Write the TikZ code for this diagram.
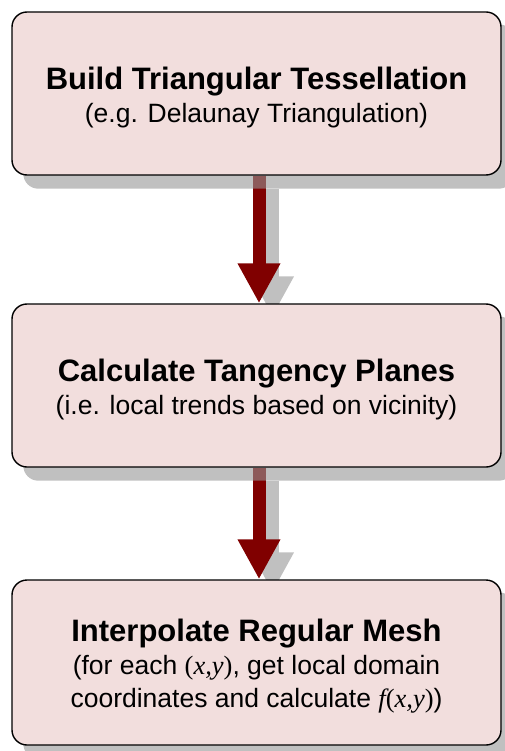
\documentclass[tikz,border=0pt]{standalone}
\usepackage{fontspec}
\setmainfont{Liberation Sans}
\newfontfamily\serifm{Liberation Serif}
\usetikzlibrary{arrows.meta,backgrounds}
\definecolor{boxfill}{RGB}{242,222,221}
\definecolor{arrred}{RGB}{128,0,0}
\definecolor{shadowc}{RGB}{150,150,150}
\definecolor{arrshadowc}{RGB}{192,192,192}
\newcommand{\serit}[1]{{\serifm\itshape #1}}
\newcommand{\serup}[1]{{\serifm #1}}
\newcommand{\ttlfont}{\fontsize{31}{33}\selectfont\bfseries}
\begin{document}
\begin{tikzpicture}[x=1pt,y=-1pt,
  stepbox/.style={draw=black,line width=1.4pt,fill=boxfill,rounded corners=15pt,
    minimum width=489pt,inner sep=0pt},
  boxtext/.style={inner sep=0pt,align=center,font=\fontsize{26.5}{33}\selectfont},
  flowarrow/.style={draw=arrred,line width=13pt,
    -{Triangle[width=40pt,length=40pt,fill=arrred]}},
  arrshadow/.style={draw=arrshadowc,line width=13pt,
    -{Triangle[width=40pt,length=40pt,fill=arrshadowc]}},
  boxshadow/.style={fill=shadowc,opacity=0.6,rounded corners=15pt}]
\useasboundingbox (0,0) rectangle (504,751);
\node[stepbox,minimum height=163pt] (b1) at (256.5,93.5) {};
\node[stepbox,minimum height=163pt] (b2) at (256.5,385.5) {};
\node[stepbox,minimum height=165pt] (b3) at (256.5,662.5) {};
\node[boxtext] (t1) at ([yshift=-4pt]b1.center)
  {{\ttlfont Build Triangular Tessellation}\\(e.g. Delaunay Triangulation)};
\node[boxtext] (t2) at ([yshift=-4pt]b2.center)
  {{\ttlfont Calculate Tangency Planes}\\(i.e. local trends based on vicinity)};
\node[boxtext] (t3) at ([yshift=-4pt]b3.center)
  {{\ttlfont Interpolate Regular Mesh}\\(for each \serup{(}\serit{x,y}\serup{)}, get local domain\\coordinates and calculate \serit{f}\serup{(}\serit{x,y}\serup{)})};
\begin{pgfonlayer}{background}
  \draw[arrshadow] ([shift={(16,13)}]b1.south) -- ([shift={(16,13)}]b2.north);
  \draw[arrshadow] ([shift={(16,13)}]b2.south) -- ([shift={(16,13)}]b3.north);
  \draw[flowarrow] ([xshift=2.5pt]b1.south) -- ([xshift=2.5pt]b2.north);
  \draw[flowarrow] ([xshift=2.5pt]b2.south) -- ([xshift=2.5pt]b3.north);
  \foreach \b in {b1,b2,b3}
    \path[boxshadow] ([shift={(12,13)}]\b.south west) rectangle ([shift={(12,13)}]\b.north east);
\end{pgfonlayer}
\end{tikzpicture}
\end{document}
